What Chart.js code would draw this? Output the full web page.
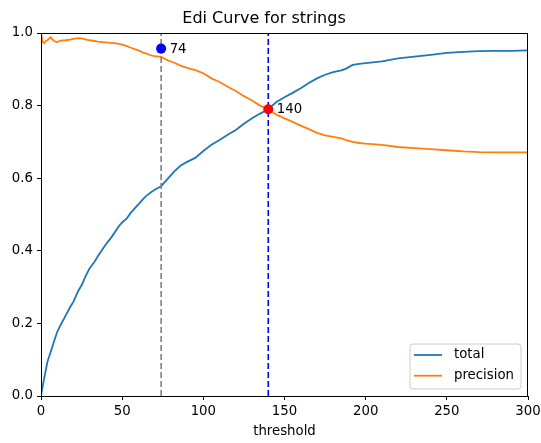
<!DOCTYPE html>
<html>
<head>
<meta charset="utf-8">
<script src="https://cdn.jsdelivr.net/npm/chart.js@4/dist/chart.umd.min.js"></script>
<style>
html,body{margin:0;padding:0;background:#fff;}
canvas{display:block;}
</style>
</head>
<body>
<canvas id="c" width="541" height="443"></canvas>
<script>
const thresholds = [0,1,2,3,4,6,8,10,12,15,18,20,23,25,28,30,33,35,38,40,43,45,48,50,53,55,58,60,63,65,68,70,74,78,82,86,90,95,100,105,110,115,120,125,130,135,140,145,150,155,160,165,170,175,180,185,188,192,196,200,210,220,230,240,250,260,270,280,290,300];
const totalValues = [0.0,0.025,0.05,0.072,0.095,0.122,0.15,0.177,0.195,0.22,0.245,0.26,0.29,0.305,0.335,0.352,0.37,0.385,0.405,0.418,0.435,0.448,0.468,0.478,0.49,0.503,0.518,0.528,0.543,0.552,0.562,0.568,0.578,0.598,0.618,0.635,0.645,0.656,0.675,0.692,0.705,0.72,0.733,0.75,0.765,0.778,0.79,0.81,0.823,0.835,0.848,0.862,0.875,0.885,0.892,0.897,0.902,0.912,0.915,0.917,0.922,0.93,0.935,0.94,0.945,0.948,0.95,0.951,0.951,0.952];
const precisionValues = [1.0,0.975,0.972,0.978,0.98,0.988,0.978,0.975,0.979,0.98,0.982,0.984,0.986,0.985,0.982,0.98,0.978,0.976,0.975,0.974,0.973,0.972,0.97,0.968,0.964,0.96,0.955,0.952,0.946,0.943,0.938,0.936,0.934,0.925,0.918,0.91,0.904,0.898,0.889,0.875,0.865,0.852,0.84,0.826,0.814,0.8,0.789,0.775,0.765,0.755,0.745,0.735,0.725,0.718,0.714,0.71,0.705,0.7,0.697,0.695,0.692,0.686,0.683,0.68,0.677,0.674,0.672,0.671,0.671,0.671];
const markThresholds = [74, 140];
const markValues = [0.957, 0.79];
const markColors = ['#0000ff', '#ff0000'];
const vlineColors = ['#808080', '#0000ff'];
const xTicks = [0,50,100,150,200,250,300];
const yTicks = [0.0,0.2,0.4,0.6,0.8,1.0];
const seriesNames = ['total','precision'];
const seriesColors = ['#1f77b4','#ff7f0e'];

const FONT = "'DejaVu Sans', sans-serif";
const FS = 13.3;

function pts(xs, ys){ return xs.map((x,i)=>({x:x,y:ys[i]})); }

const datasets = [
  {label: seriesNames[0], data: pts(thresholds,totalValues), borderColor: seriesColors[0], borderWidth:1.8, pointRadius:0, tension:0, order:3},
  {label: seriesNames[1], data: pts(thresholds,precisionValues), borderColor: seriesColors[1], borderWidth:1.8, pointRadius:0, tension:0, order:2},
];
markThresholds.forEach((t,i)=>{
  datasets.push({label:'vline'+i, data:[{x:t,y:0},{x:t,y:1}], borderColor: vlineColors[i], borderWidth:1.6, borderDash:[6,3], pointRadius:0, order:1});
});
markThresholds.forEach((t,i)=>{
  datasets.push({label:'mark'+i, data:[{x:t,y:markValues[i]}], showLine:false, pointRadius:5, pointBackgroundColor: markColors[i], pointBorderColor: markColors[i], pointBorderWidth:0, order:0});
});

const framePlugin = {
  id:'frame',
  afterDatasetsDraw(chart){
    const {ctx, chartArea:a, scales} = chart;
    ctx.save();
    ctx.font = FS + "px " + FONT;
    ctx.fillStyle = '#000';
    ctx.textBaseline = 'middle';
    ctx.textAlign = 'left';
    markThresholds.forEach((t,i)=>{
      ctx.fillText(String(t), scales.x.getPixelForValue(t)+8.5, scales.y.getPixelForValue(markValues[i])+0.5);
    });
    ctx.strokeStyle = '#000';
    ctx.lineWidth = 1;
    ctx.strokeRect(Math.round(a.left)+0.5, Math.round(a.top)+0.5, Math.round(a.right-a.left)-1, Math.round(a.bottom-a.top));
    const w = 111, h = 45;
    const lx = a.right - 7 - w, ly = a.bottom - 7 - h;
    ctx.beginPath();
    const r = 3;
    ctx.moveTo(lx+r, ly); ctx.lineTo(lx+w-r, ly); ctx.quadraticCurveTo(lx+w, ly, lx+w, ly+r);
    ctx.lineTo(lx+w, ly+h-r); ctx.quadraticCurveTo(lx+w, ly+h, lx+w-r, ly+h);
    ctx.lineTo(lx+r, ly+h); ctx.quadraticCurveTo(lx, ly+h, lx, ly+h-r);
    ctx.lineTo(lx, ly+r); ctx.quadraticCurveTo(lx, ly, lx+r, ly);
    ctx.closePath();
    ctx.fillStyle = 'rgba(255,255,255,0.8)';
    ctx.fill();
    ctx.strokeStyle = '#cccccc';
    ctx.lineWidth = 1;
    ctx.stroke();
    seriesNames.forEach((n,i)=>{
      const yy = ly + 11 + i*20.7;
      ctx.beginPath();
      ctx.moveTo(lx+4, yy); ctx.lineTo(lx+32, yy);
      ctx.strokeStyle = seriesColors[i]; ctx.lineWidth = 1.8; ctx.stroke();
      ctx.fillStyle = '#000';
      ctx.font = FS + "px " + FONT;
      ctx.textBaseline = 'middle';
      ctx.fillText(n, lx+44, yy);
    });
    ctx.restore();
  }
};

new Chart(document.getElementById('c'), {
  type:'line',
  data:{datasets},
  plugins:[framePlugin],
  options:{
    responsive:false,
    animation:false,
    devicePixelRatio:1,
    layout:{padding:{left:0,right:13,top:0,bottom:0}},
    plugins:{
      legend:{display:false},
      tooltip:{enabled:false},
      title:{display:true, text:'Edi Curve for strings', color:'#000', font:{family:FONT, size:16, weight:'normal', lineHeight:1.2}, padding:{top:9,bottom:4.8}}
    },
    scales:{
      x:{type:'linear', min:0, max:300,
        afterBuildTicks(s){ s.ticks = xTicks.map(v=>({value:v})); },
        afterFit(s){ s.height = 47; s.paddingLeft = 0; s.paddingRight = 0; },
        grid:{display:true, drawOnChartArea:false, drawTicks:true, tickLength:4, color:'#000'},
        border:{display:true, color:'#000'},
        ticks:{color:'#000', padding:4, maxRotation:0, font:{family:FONT,size:FS}, callback:(v)=>String(v)},
        title:{display:true, text:'threshold', color:'#000', font:{family:FONT,size:FS}, padding:{top:0,bottom:3}}
      },
      y:{type:'linear', min:0, max:1,
        afterBuildTicks(s){ s.ticks = yTicks.map(v=>({value:v})); },
        afterFit(s){ s.width = 41; s.paddingTop = 0; s.paddingBottom = 0; },
        grid:{display:true, drawOnChartArea:false, drawTicks:true, tickLength:4, color:'#000'},
        border:{display:true, color:'#000'},
        ticks:{color:'#000', padding:4, font:{family:FONT,size:FS}, callback:(v)=>Number(v).toFixed(1)}
      }
    }
  }
});
</script>
</body>
</html>
